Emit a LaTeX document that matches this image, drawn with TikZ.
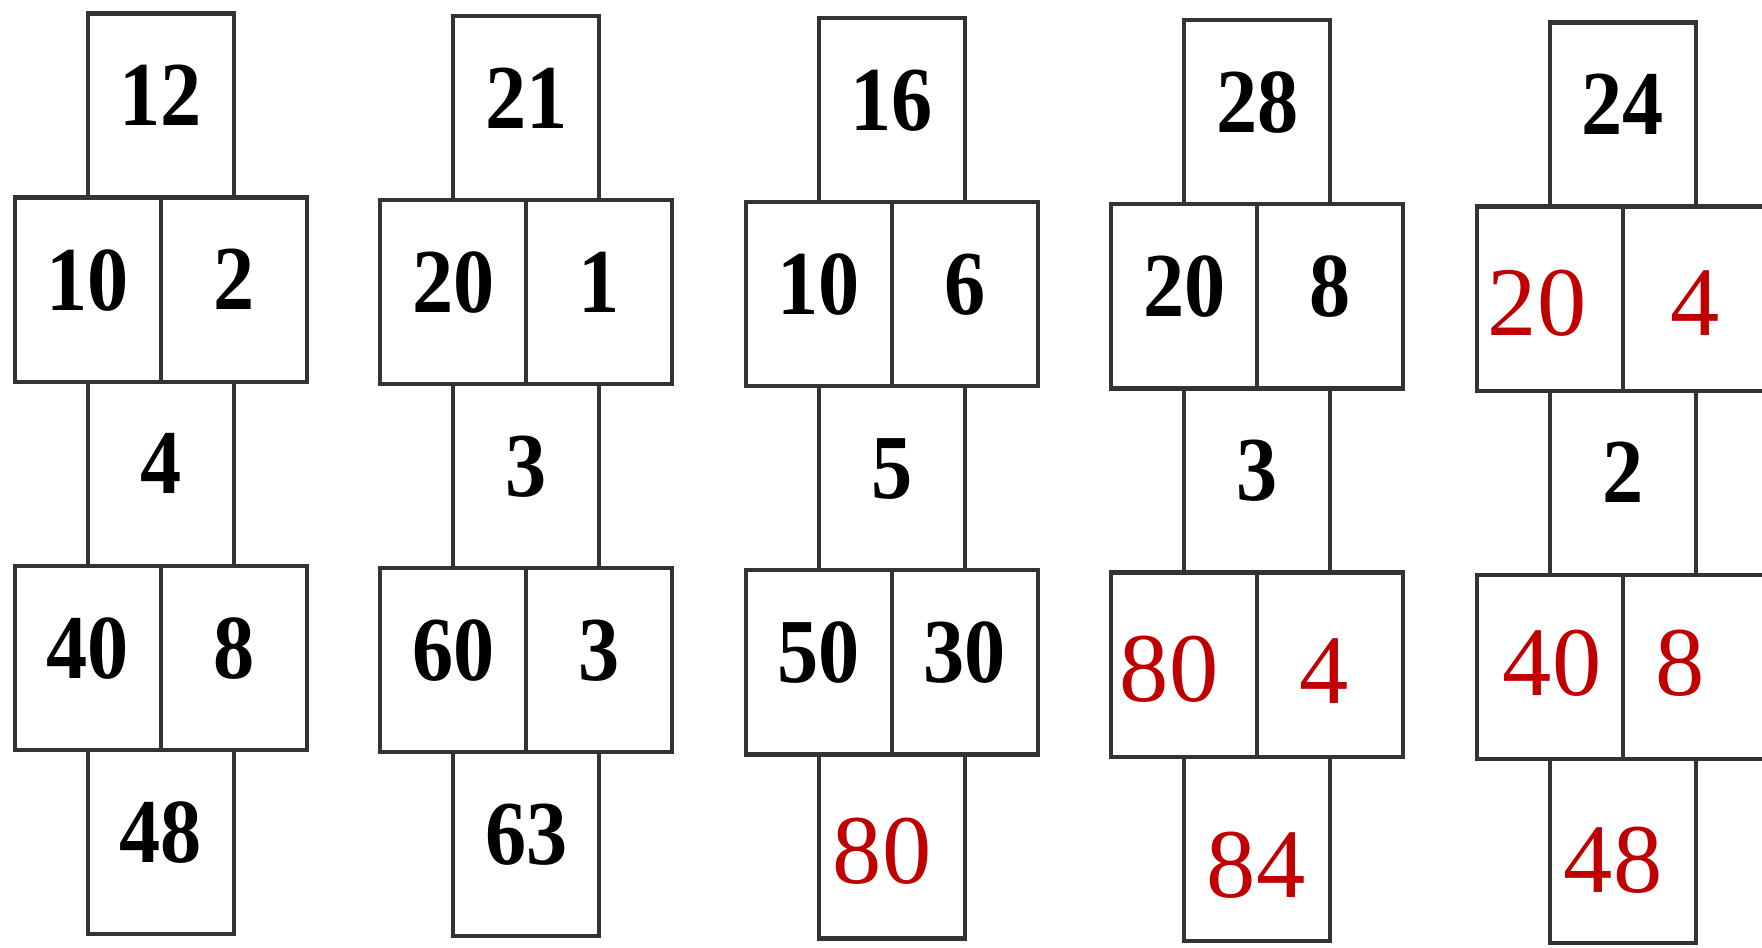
\documentclass[tikz,border=0pt]{standalone}
\usepackage{fontspec}
\setmainfont{Liberation Serif}
\newfontfamily\cellfont{Liberation Serif}[FakeStretch=0.9]
\usetikzlibrary{positioning}
\definecolor{AnsRed}{HTML}{C00000}

\begin{document}
\begin{tikzpicture}[x=0.01cm, y=-0.01cm,
    cell/.style={rectangle, draw=black!80, line width=1.2pt, outer sep=0pt,
                 inner sep=0pt, minimum width=1.46cm, minimum height=1.84cm,
                 text depth=0.2cm, font=\cellfont\fontsize{26}{26}\selectfont\bfseries},
    ans/.style={text=AnsRed, inner sep=0pt, font=\fontsize{28}{28}\selectfont}
  ]
  \useasboundingbox (0,0) rectangle (1762,947);
  \clip (0,0) rectangle (1762,947);
  % five hopscotch grids
  \foreach \i/\tp/\a/\b/\m/\c/\d/\bt in {0/12/10/2/4/40/8/48, 1/21/20/1/3/60/3/63,
      2/16/10/6/5/50/30/{}, 3/28/20/8/3/{}/{}/{}, 4/24/{}/{}/2/{}/{}/{}}{
    \pgfmathsetmacro\sx{160.7+365.5*\i}
    \pgfmathsetmacro\sy{13.5+2.25*\i}
    \node[cell] (top\i) at (\sx,\sy+92) {\tp};
    \node[cell, anchor=north east] (left\i) at (top\i.south) {\a};
    \node[cell, anchor=north west] (right\i) at (top\i.south) {\b};
    \node[cell, anchor=north] (mid\i) at (left\i.south east) {\m};
    \node[cell, anchor=north east] (lowl\i) at (mid\i.south) {\c};
    \node[cell, anchor=north west] (lowr\i) at (mid\i.south) {\d};
    \node[cell, anchor=north] (base\i) at (lowl\i.south east) {\bt};
  }
  % filled-in answers
  \node[ans] (ans2base) at (882,851) {80};
  \node[ans] (ans3lowl) at (1169,669) {80};
  \node[ans] (ans3lowr) at (1324,671) {4};
  \node[ans] (ans3base) at (1256,865) {84};
  \node[ans] (ans4left) at (1537,303) {20};
  \node[ans] (ans4right) at (1695,303) {4};
  \node[ans] (ans4lowl) at (1552,663) {40};
  \node[ans] (ans4lowr) at (1680,663) {8};
  \node[ans] (ans4base) at (1613,860) {48};
\end{tikzpicture}
\end{document}
